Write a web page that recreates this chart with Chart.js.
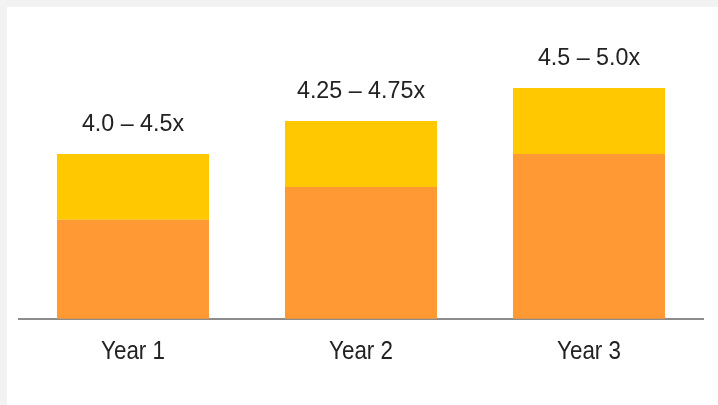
<!DOCTYPE html>
<html>
<head>
<meta charset="utf-8">
<script src="https://cdn.jsdelivr.net/npm/chart.js@4"></script>
<style>
  html, body { margin: 0; padding: 0; background: #f2f2f2; }
  #wrap { position: absolute; left: 7px; top: 7px; width: 711px; height: 398px; background: #fff; }
</style>
</head>
<body>
<div id="wrap"><canvas id="myChart"></canvas></div>
<script>
var years = ['Year 1', 'Year 2', 'Year 3'];
var lowMultiple = [4.0, 4.25, 4.5];
var highMultiple = [4.5, 4.75, 5.0];

// yellow part is the spread between low and high end of the range
var spread = [];
years.forEach(function (y, i) {
  spread.push(highMultiple[i] - lowMultiple[i]);
});

function fmt(v) {
  return (v * 10) % 1 ? v.toFixed(2) : v.toFixed(1);
}

// range text above each bar, plus narrow category labels under the axis
const rangeLabels = {
  id: 'rangeLabels',
  afterDraw(chart) {
    const ctx = chart.ctx;
    const meta = chart.getDatasetMeta(1);
    const xScale = chart.scales.x;
    ctx.save();
    ctx.font = '24px "Liberation Sans", Arial, sans-serif';
    ctx.fillStyle = '#222';
    ctx.textAlign = 'center';
    ctx.textBaseline = 'alphabetic';
    meta.data.forEach(function (bar, i) {
      ctx.save();
      ctx.translate(bar.x, bar.y - 23);
      ctx.scale(0.97, 1);
      ctx.fillText(fmt(lowMultiple[i]) + ' \u2013 ' + fmt(highMultiple[i]) + 'x', 0, 0);
      ctx.restore();
    });
    ctx.font = '26px "Liberation Sans", Arial, sans-serif';
    xScale.ticks.forEach(function (t, i) {
      ctx.save();
      ctx.translate(xScale.getPixelForTick(i), chart.chartArea.bottom + 40);
      ctx.scale(0.86, 1);
      ctx.fillText(years[i], 0, 0);
      ctx.restore();
    });
    ctx.restore();
  }
};

const data = {
  labels: years,
  datasets: [{
    label: 'Low',
    backgroundColor: '#ff9933',
    data: lowMultiple
  }, {
    label: 'Spread',
    backgroundColor: '#ffc800',
    data: spread
  }]
};

const config = {
  type: 'bar',
  data: data,
  options: {
    responsive: true,
    maintainAspectRatio: false,
    animation: false,
    layout: { padding: { left: 12, right: 15, top: 15, bottom: 27 } },
    datasets: { bar: { categoryPercentage: 1, barPercentage: 0.667 } },
    plugins: {
      legend: { display: false },
      tooltip: { enabled: false }
    },
    scales: {
      x: {
        stacked: true,
        z: 1,
        grid: { display: false, drawTicks: false },
        border: { display: true, color: '#8c8c8c', width: 2 },
        ticks: {
          color: 'rgba(0,0,0,0)',
          padding: 14,
          font: { family: '"Liberation Sans", Arial, sans-serif', size: 26 }
        }
      },
      y: {
        stacked: true,
        display: false,
        min: 3.25,
        max: 5.5
      }
    }
  },
  plugins: [rangeLabels]
};

const myChart = new Chart(document.getElementById('myChart'), config);
</script>
</body>
</html>
